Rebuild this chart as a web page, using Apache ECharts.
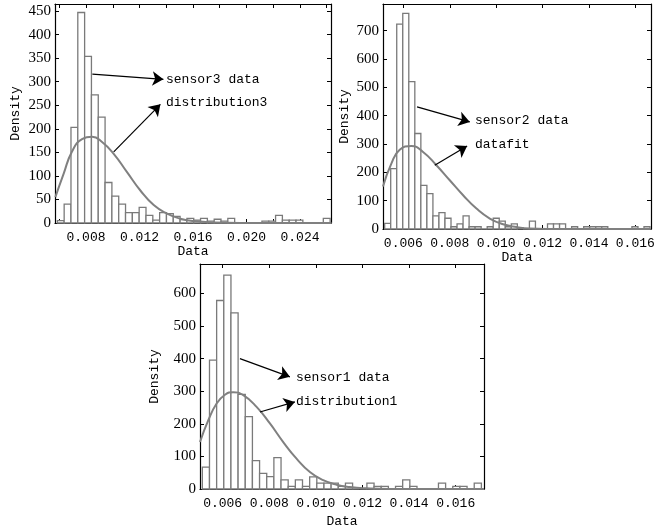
<!DOCTYPE html>
<html>
<head>
<meta charset="utf-8">
<script src="https://cdn.jsdelivr.net/npm/echarts@6/dist/echarts.min.js"></script>
<style>
  html, body { margin: 0; padding: 0; background: #fff; }
  #main { width: 662px; height: 531px; }
</style>
</head>
<body>
<div id="main"></div>
<script>
// histogram bins: start, width, counts (density)
var bin3Start = 0.005855, bin3Width = 0.00051;
var counts3 = [5, 40, 203, 447, 354, 272, 225, 86, 57, 40, 22, 22, 33, 16, 6, 22, 20, 14, 7, 10,
  6, 10, 4, 8, 4, 10, 0, 0, 0, 0, 4, 4, 16, 6, 6, 6, 0, 0, 0, 10];
var bin2Start = 0.005194, bin2Width = 0.00026;
var counts2 = [20, 213, 723, 761, 520, 337, 154, 125, 46, 58, 38, 8, 18, 46, 8, 8, 0, 8, 38, 28,
  8, 18, 4, 0, 28, 0, 0, 18, 18, 18, 0, 8, 0, 8, 8, 8, 8, 0, 0, 0, 0, 8, 0, 8];
var bin1Start = 0.005129, bin1Width = 0.000307;
var counts1 = [67, 395, 578, 656, 540, 290, 222, 87, 48, 38, 96, 28, 8, 28, 8, 37, 18, 18, 18, 8,
  18, 0, 0, 18, 8, 8, 0, 8, 28, 8, 0, 0, 0, 18, 0, 8, 8, 0, 18];

// fitted curves
var fit3 = [[0.005706, 55], [0.006329, 105], [0.006953, 152], [0.007701, 178], [0.008449, 183],
  [0.009197, 172], [0.010070, 147], [0.011067, 108], [0.012065, 69], [0.013062, 38],
  [0.014060, 20], [0.015057, 9], [0.016055, 4], [0.017551, 1], [0.019546, 0], [0.026354, 0]];
var fit2 = [[0.005122, 150], [0.005482, 231], [0.005842, 280], [0.006345, 293], [0.006849, 272],
  [0.007424, 225], [0.008000, 172], [0.008576, 119], [0.009151, 72], [0.009727, 37],
  [0.010302, 17], [0.010878, 7], [0.011453, 2], [0.012892, 0], [0.016662, 0]];
var fit1 = [[0.005029, 144], [0.005386, 211], [0.005743, 262], [0.006100, 289], [0.006457, 297],
  [0.006886, 288], [0.007457, 252], [0.008029, 201], [0.008600, 144], [0.009171, 93],
  [0.009743, 52], [0.010314, 27], [0.010886, 13], [0.011457, 6], [0.012171, 2], [0.013171, 0],
  [0.017214, 0]];

// tick labels
var xTicks3 = [0.006, 0.008, 0.010, 0.012, 0.014, 0.016, 0.018, 0.020, 0.022, 0.024, 0.026];
var xLabels3 = [0.008, 0.012, 0.016, 0.020, 0.024];
var xTicks2 = [0.006, 0.008, 0.010, 0.012, 0.014, 0.016];
var xTicks1 = [0.006, 0.008, 0.010, 0.012, 0.014, 0.016];

// annotation arrows [from, to] in data units
var arrows3 = [[[0.008474, 316], [0.013786, 305]], [[0.010070, 151], [0.013561, 252]]];
var arrows2 = [[[0.00659, 431], [0.008863, 378]], [[0.007353, 225], [0.008748, 293]]];
var arrows1 = [[[0.006743, 400], [0.008886, 344]], [[0.0076, 236], [0.0091, 267]]];

function bins(start, width, counts) {
  return counts.map(function (c, i) {
    return [start + i * width, start + (i + 1) * width, c];
  });
}

var grids = [
  { left: 55, top: 4, width: 276, height: 219 },
  { left: 383, top: 4, width: 268, height: 225 },
  { left: 200, top: 264, width: 284, height: 225 }
];
var xRanges = [[0.00568, 0.02632], [0.005122, 0.016676], [0.005029, 0.017214]];
var yRanges = [[0, 465, 50], [0, 794, 100], [0, 690, 100]];
var xTickSets = [xTicks3, xTicks2, xTicks1];
var xLabelSets = [xLabels3, xTicks2, xTicks1];
var nameGaps = [[20, 33], [21, 32], [26, 39]];

var monoFont = 'Liberation Mono';
var xAxes = [], yAxes = [];
grids.forEach(function (g, i) {
  xAxes.push({
    type: 'value', gridIndex: i, min: xRanges[i][0], max: xRanges[i][1],
    name: 'Data', nameLocation: 'middle', nameGap: nameGaps[i][0],
    nameTextStyle: { fontFamily: monoFont, fontSize: 13, color: '#000' },
    axisLine: { show: true, onZero: false, lineStyle: { color: '#000', width: 1.2 } },
    axisTick: { show: true, inside: true, length: 4, customValues: xTickSets[i], lineStyle: { color: '#000' } },
    axisLabel: {
      customValues: xLabelSets[i], margin: 8, fontFamily: monoFont, fontSize: 13, color: '#000',
      formatter: function (v) { return v.toFixed(3); }
    },
    splitLine: { show: false }
  });
  xAxes.push({
    type: 'value', gridIndex: i, position: 'top', min: xRanges[i][0], max: xRanges[i][1],
    axisLine: { show: true, onZero: false, lineStyle: { color: '#000', width: 1.2 } },
    axisTick: { show: true, inside: true, length: 4, customValues: xTickSets[i], lineStyle: { color: '#000' } },
    axisLabel: { show: false }, splitLine: { show: false }
  });
  yAxes.push({
    type: 'value', gridIndex: i, min: yRanges[i][0], max: yRanges[i][1], interval: yRanges[i][2],
    name: 'Density', nameLocation: 'middle', nameGap: nameGaps[i][1],
    nameTextStyle: { fontFamily: monoFont, fontSize: 13, color: '#000' },
    axisLine: { show: true, lineStyle: { color: '#000', width: 1.2 } },
    axisTick: { show: true, inside: true, length: 4, lineStyle: { color: '#000' } },
    axisLabel: { margin: 4, fontFamily: 'Liberation Serif', fontSize: 15, color: '#000', showMaxLabel: false },
    splitLine: { show: false }
  });
  yAxes.push({
    type: 'value', gridIndex: i, position: 'right', min: yRanges[i][0], max: yRanges[i][1], interval: yRanges[i][2],
    axisLine: { show: true, lineStyle: { color: '#000', width: 1.2 } },
    axisTick: { show: true, inside: true, length: 4, lineStyle: { color: '#000' } },
    axisLabel: { show: false }, splitLine: { show: false }
  });
});

function histSeries(i, data) {
  return {
    type: 'custom', xAxisIndex: i * 2, yAxisIndex: i * 2,
    encode: { x: [0, 1], y: 2 },
    data: data,
    renderItem: function (params, api) {
      var p0 = api.coord([api.value(0), api.value(2)]);
      var p1 = api.coord([api.value(1), 0]);
      return {
        type: 'rect',
        shape: { x: p0[0], y: p0[1], width: p1[0] - p0[0], height: p1[1] - p0[1] },
        style: { fill: '#fff', stroke: '#7a7a7a', lineWidth: 1.3 }
      };
    }
  };
}

function fitSeries(i, data, arrows) {
  return {
    type: 'line', xAxisIndex: i * 2, yAxisIndex: i * 2,
    data: data, smooth: 0.5, showSymbol: false,
    lineStyle: { color: '#808080', width: 2 },
    markLine: {
      silent: true, symbol: ['none', 'arrow'], symbolSize: 11,
      lineStyle: { color: '#000', type: 'solid', width: 1.2 },
      label: { show: false },
      data: arrows.map(function (a) { return [{ coord: a[0] }, { coord: a[1] }]; })
    }
  };
}

var notes = [
  ['sensor3 data', 166, 81], ['distribution3', 166, 104],
  ['sensor2 data', 475, 122], ['datafit', 475, 146],
  ['sensor1 data', 296, 379], ['distribution1', 296, 403]
];

var chart = echarts.init(document.getElementById('main'));
chart.setOption({
  animation: false,
  backgroundColor: '#fff',
  grid: grids,
  xAxis: xAxes,
  yAxis: yAxes,
  series: [
    histSeries(0, bins(bin3Start, bin3Width, counts3)),
    fitSeries(0, fit3, arrows3),
    histSeries(1, bins(bin2Start, bin2Width, counts2)),
    fitSeries(1, fit2, arrows2),
    histSeries(2, bins(bin1Start, bin1Width, counts1)),
    fitSeries(2, fit1, arrows1)
  ],
  graphic: notes.map(function (n) {
    return {
      type: 'text', left: n[1], top: n[2] - 8,
      style: { text: n[0], font: '13px "Liberation Mono"', fill: '#000' }
    };
  })
});
</script>
</body>
</html>
